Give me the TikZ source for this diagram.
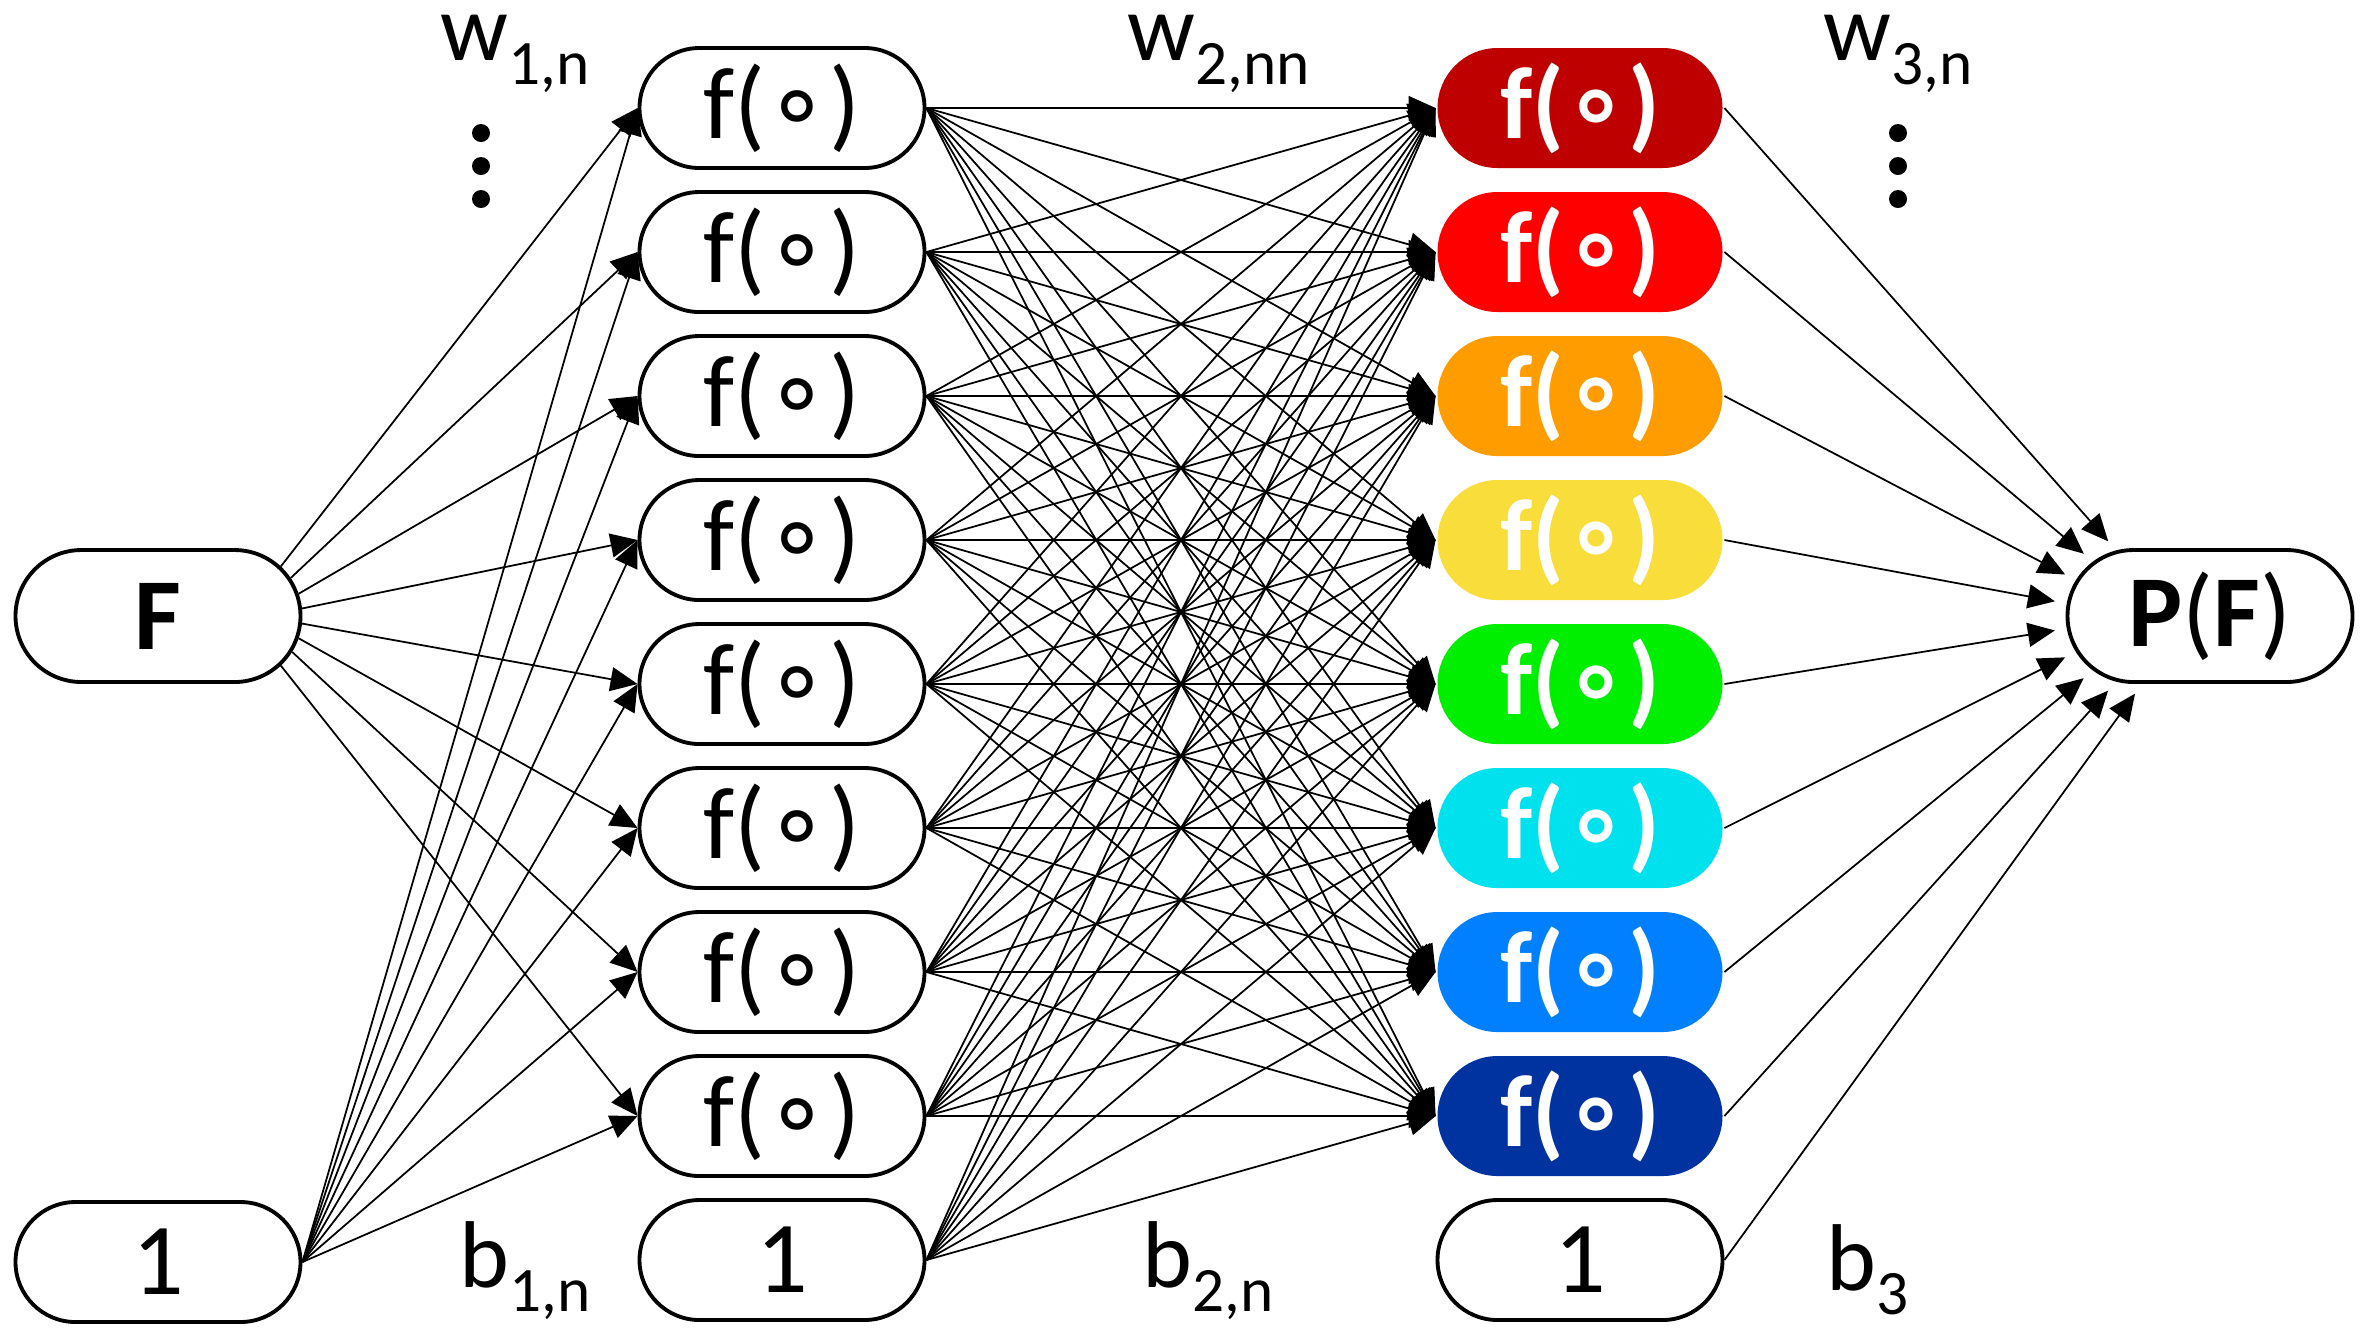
\documentclass[tikz,border=0pt]{standalone}
\usepackage{fontspec}
\setmainfont{Carlito}
\newfontfamily\ringfont{DejaVu Sans}
\usetikzlibrary{shapes.misc,arrows.meta}
\definecolor{act1}{HTML}{BE0000}
\definecolor{act2}{HTML}{FF0000}
\definecolor{act3}{HTML}{FF9C00}
\definecolor{act4}{HTML}{F9DD3A}
\definecolor{act5}{HTML}{00EE00}
\definecolor{act6}{HTML}{00E1EE}
\definecolor{act7}{HTML}{0080FF}
\definecolor{act8}{HTML}{0033A0}
\newcommand{\actfn}{f({\ringfont ∘})}
\newcommand{\sublbl}[1]{\raisebox{-7pt}{\fontsize{18}{20}\selectfont #1}}
\begin{document}
\begin{tikzpicture}[x=0.1mm, y=-0.1mm,
    unit/.style = {rounded rectangle, draw, line width=1.1pt, minimum width=28.5mm, minimum height=12mm, inner sep=0pt, font=\fontsize{29}{31}\selectfont},
    act/.style = {unit, draw=none, fill=#1, text=white, font=\fontsize{29}{31}\selectfont\bfseries},
    wire/.style = {-{Triangle[length=2.7mm, width=2.4mm]}, line width=0.5pt},
    lbl/.style = {anchor=base west, inner sep=0pt, font=\fontsize{27}{29}\selectfont}]
  \useasboundingbox (0,0) rectangle (2365,1337);
  % input layer
  \node[unit, minimum height=13.2mm, font=\fontsize{29}{31}\selectfont\bfseries] (F) at (158,616) {F};
  \node[unit] (one1) at (158,1262) {1};
  % hidden layers
  \foreach \i in {1,...,8} {
    \node[unit] (h\i) at (782,{108+144*(\i-1)}) {\actfn};
    \node[act=act\i] (g\i) at (1580,{108+144*(\i-1)}) {\actfn};
  }
  \node[unit] (one2) at (782,1260) {1};
  \node[unit] (one3) at (1580,1260) {1};
  % output
  \node[unit, minimum height=13.2mm] (P) at (2210,616) {\textbf{P}(\textbf{F})};
  % weights and biases
  \node[lbl] (w1) at (440,60) {w\sublbl{1,n}};
  \node[lbl] (w2) at (1127,60) {w\sublbl{2,nn}};
  \node[lbl] (w3) at (1823,60) {w\sublbl{3,n}};
  \node[lbl] (b1) at (459,1287) {b\sublbl{1,n}};
  \node[lbl] (b2) at (1142,1287) {b\sublbl{2,n}};
  \node[lbl] (b3) at (1826,1290) {b\sublbl{3}};
  \foreach \y in {133,166,199} {
    \fill (481,\y) circle (9);
    \fill (1898,\y) circle (9);
  }
  % connectors
  \foreach \i in {1,...,8} {
    \draw[wire] (F.{28.8-6.4*\i}) -- (h\i.west);
    \draw[wire] (one1.east) -- (h\i.west);
    \foreach \j in {1,...,8}
      \draw[wire] (h\j.east) -- (g\i.west);
    \draw[wire] (one2.east) -- (g\i.west);
    \draw[wire, shorten >=1.2mm] (g\i.east) -- (P.{135+10*\i});
  }
  \draw[wire, shorten >=1.2mm] (one3.east) -- (P.225);
\end{tikzpicture}
\end{document}
